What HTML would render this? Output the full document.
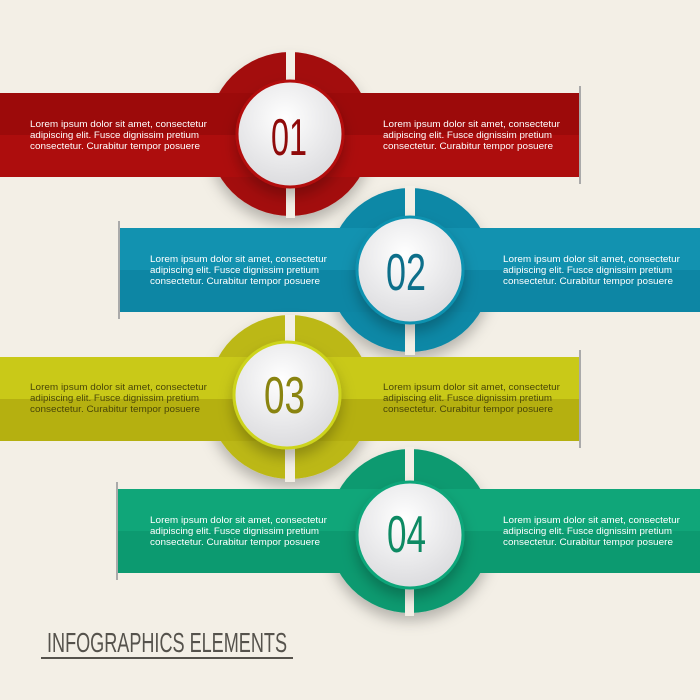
<!DOCTYPE html>
<html><head><meta charset="utf-8"><style>
html,body{margin:0;padding:0;background:#f3efe6;}
svg{display:block;}
text{font-family:"Liberation Sans",sans-serif;}
</style></head><body>
<svg width="700" height="700" viewBox="0 0 700 700" xmlns="http://www.w3.org/2000/svg">
<defs>
<radialGradient id="wg" cx="45%" cy="35%" r="70%"><stop offset="0" stop-color="#ffffff"/><stop offset="1" stop-color="#d9d9dc"/></radialGradient>
<filter id="sh" x="-30%" y="-30%" width="160%" height="170%"><feDropShadow dx="0" dy="8" stdDeviation="7" flood-color="#000" flood-opacity="0.25"/></filter>
</defs>
<rect width="700" height="700" fill="#f3efe6"/>

<!-- Row 1 red -->
<g>
<circle cx="290" cy="134" r="82" fill="#a30b0b" filter="url(#sh)"/>
<rect x="0" y="93" width="580" height="42" fill="#9c0a0a"/>
<rect x="0" y="135" width="580" height="42" fill="#ad0d0d"/>
<rect x="579" y="86" width="2" height="98" fill="#aaa"/>
<rect x="286" y="50" width="9" height="44" fill="#f3efe6"/>
<rect x="286" y="176" width="9" height="42" fill="#f3efe6"/>
<circle cx="290" cy="134" r="53" fill="url(#wg)" stroke="#b30f0f" stroke-width="3" filter="url(#sh)"/>
<text x="271" y="155" font-size="52" fill="#8f0a0a" textLength="36" lengthAdjust="spacingAndGlyphs">01</text>
<g fill="#fff" font-size="9.5">
<text x="30" y="127" textLength="177" lengthAdjust="spacingAndGlyphs">Lorem ipsum dolor sit amet, consectetur</text>
<text x="30" y="138" textLength="169" lengthAdjust="spacingAndGlyphs">adipiscing elit. Fusce dignissim pretium</text>
<text x="30" y="149" textLength="170" lengthAdjust="spacingAndGlyphs">consectetur. Curabitur tempor posuere</text>
<text x="383" y="127" textLength="177" lengthAdjust="spacingAndGlyphs">Lorem ipsum dolor sit amet, consectetur</text>
<text x="383" y="138" textLength="169" lengthAdjust="spacingAndGlyphs">adipiscing elit. Fusce dignissim pretium</text>
<text x="383" y="149" textLength="170" lengthAdjust="spacingAndGlyphs">consectetur. Curabitur tempor posuere</text>
</g>
</g>

<!-- Row 2 blue -->
<g>
<circle cx="410" cy="270" r="82" fill="#0f88a6" filter="url(#sh)"/>
<rect x="120" y="228" width="580" height="42" fill="#1292b0"/>
<rect x="120" y="270" width="580" height="42" fill="#0d86a4"/>
<rect x="118" y="221" width="2" height="98" fill="#aaa"/>
<rect x="405" y="186" width="10" height="43" fill="#f3efe6"/>
<rect x="405" y="311" width="10" height="44" fill="#f3efe6"/>
<circle cx="410" cy="270" r="53" fill="url(#wg)" stroke="#1192b0" stroke-width="3" filter="url(#sh)"/>
<text x="386" y="290" font-size="52" fill="#0d6f8a" textLength="40" lengthAdjust="spacingAndGlyphs">02</text>
<g fill="#fff" font-size="9.5">
<text x="150" y="262" textLength="177" lengthAdjust="spacingAndGlyphs">Lorem ipsum dolor sit amet, consectetur</text>
<text x="150" y="273" textLength="169" lengthAdjust="spacingAndGlyphs">adipiscing elit. Fusce dignissim pretium</text>
<text x="150" y="284" textLength="170" lengthAdjust="spacingAndGlyphs">consectetur. Curabitur tempor posuere</text>
<text x="503" y="262" textLength="177" lengthAdjust="spacingAndGlyphs">Lorem ipsum dolor sit amet, consectetur</text>
<text x="503" y="273" textLength="169" lengthAdjust="spacingAndGlyphs">adipiscing elit. Fusce dignissim pretium</text>
<text x="503" y="284" textLength="170" lengthAdjust="spacingAndGlyphs">consectetur. Curabitur tempor posuere</text>
</g>
</g>

<!-- Row 3 olive -->
<g>
<circle cx="290" cy="397" r="82" fill="#bcb814" filter="url(#sh)"/>
<rect x="0" y="357" width="580" height="42" fill="#c9c918"/>
<rect x="0" y="399" width="580" height="42" fill="#b5b010"/>
<rect x="579" y="350" width="2" height="98" fill="#aaa"/>
<rect x="285" y="315" width="10" height="43" fill="#f3efe6"/>
<rect x="285" y="440" width="10" height="42" fill="#f3efe6"/>
<circle cx="287" cy="395" r="53" fill="url(#wg)" stroke="#cdd41f" stroke-width="3" filter="url(#sh)"/>
<text x="264" y="413" font-size="52" fill="#8a8410" textLength="41" lengthAdjust="spacingAndGlyphs">03</text>
<g fill="#4a4708" font-size="9.5">
<text x="30" y="390" textLength="177" lengthAdjust="spacingAndGlyphs">Lorem ipsum dolor sit amet, consectetur</text>
<text x="30" y="401" textLength="169" lengthAdjust="spacingAndGlyphs">adipiscing elit. Fusce dignissim pretium</text>
<text x="30" y="412" textLength="170" lengthAdjust="spacingAndGlyphs">consectetur. Curabitur tempor posuere</text>
<text x="383" y="390" textLength="177" lengthAdjust="spacingAndGlyphs">Lorem ipsum dolor sit amet, consectetur</text>
<text x="383" y="401" textLength="169" lengthAdjust="spacingAndGlyphs">adipiscing elit. Fusce dignissim pretium</text>
<text x="383" y="412" textLength="170" lengthAdjust="spacingAndGlyphs">consectetur. Curabitur tempor posuere</text>
</g>
</g>

<!-- Row 4 green -->
<g>
<circle cx="410" cy="531" r="82" fill="#0c9a70" filter="url(#sh)"/>
<rect x="118" y="489" width="582" height="42" fill="#10a679"/>
<rect x="118" y="531" width="582" height="42" fill="#0c9a70"/>
<rect x="116" y="482" width="2" height="98" fill="#aaa"/>
<rect x="365" y="489" width="45" height="1" fill="#10a679"/>
<rect x="405" y="447" width="9" height="43" fill="#f3efe6"/>
<rect x="405" y="572" width="9" height="44" fill="#f3efe6"/>
<circle cx="410" cy="535" r="53" fill="url(#wg)" stroke="#11a67a" stroke-width="3" filter="url(#sh)"/>
<text x="387" y="552" font-size="52" fill="#0d8a63" textLength="39" lengthAdjust="spacingAndGlyphs">04</text>
<g fill="#fff" font-size="9.5">
<text x="150" y="523" textLength="177" lengthAdjust="spacingAndGlyphs">Lorem ipsum dolor sit amet, consectetur</text>
<text x="150" y="534" textLength="169" lengthAdjust="spacingAndGlyphs">adipiscing elit. Fusce dignissim pretium</text>
<text x="150" y="545" textLength="170" lengthAdjust="spacingAndGlyphs">consectetur. Curabitur tempor posuere</text>
<text x="503" y="523" textLength="177" lengthAdjust="spacingAndGlyphs">Lorem ipsum dolor sit amet, consectetur</text>
<text x="503" y="534" textLength="169" lengthAdjust="spacingAndGlyphs">adipiscing elit. Fusce dignissim pretium</text>
<text x="503" y="545" textLength="170" lengthAdjust="spacingAndGlyphs">consectetur. Curabitur tempor posuere</text>
</g>
</g>

<!-- Title -->
<text x="47" y="652" font-size="28" fill="#55524c" textLength="240" lengthAdjust="spacingAndGlyphs">INFOGRAPHICS ELEMENTS</text>
<rect x="41" y="657" width="252" height="2" fill="#55524c"/>
</svg>
</body></html>
